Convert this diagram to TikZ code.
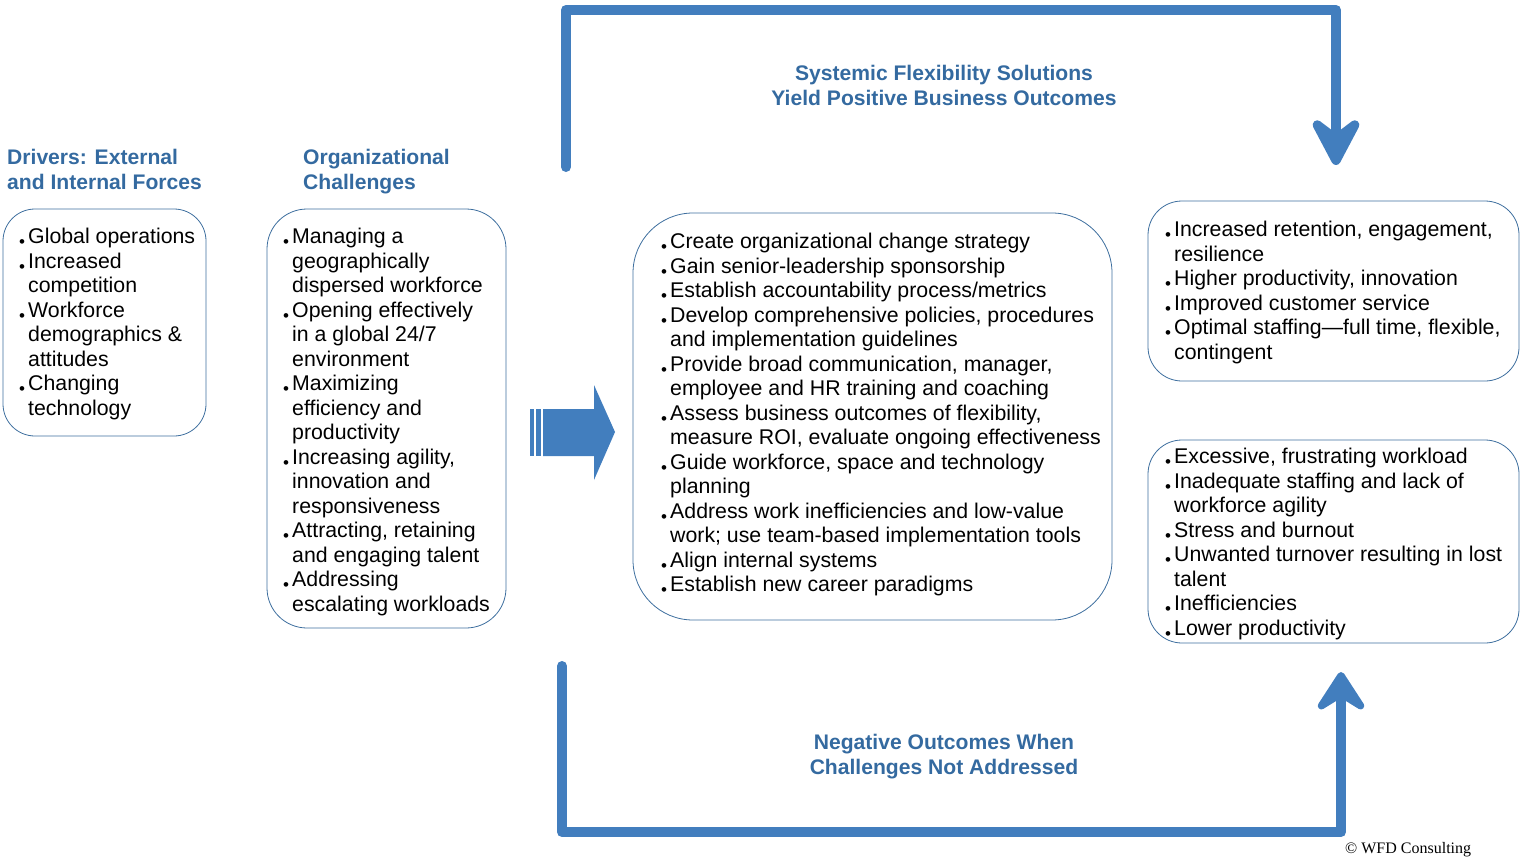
\documentclass[tikz,border=0pt]{standalone}
\usepackage{fontspec}
\setmainfont{Liberation Sans}
\newfontfamily\serifc{Liberation Serif}
\usetikzlibrary{arrows.meta}
\definecolor{ttl}{RGB}{52,106,160}
\definecolor{brd}{RGB}{61,110,158}
\definecolor{arr}{RGB}{66,126,190}
\newcommand\bul{\strut\makebox[8pt][l]{\hspace*{-1pt}\raisebox{-4pt}{\fontsize{17}{17}\selectfont •}}}
\newcommand\cnt{\strut\hspace*{8pt}}
\tikzset{
  txt/.style={anchor=north west, inner sep=0pt, align=left, font=\fontsize{21.3}{24.5}\selectfont},
  ttltext/.style={inner sep=0pt, text=ttl, font=\fontsize{21.1}{25}\selectfont\bfseries},
  box/.style={draw=brd, line width=0.8pt, rounded corners=#1, inner sep=0pt},
  flow/.style={draw=arr, line width=10pt, line cap=round, line join=round},
}
\begin{document}
\begin{tikzpicture}[x=1pt,y=-1pt]
\useasboundingbox (0,0) rectangle (1520,859);

% titles
\node[ttltext, anchor=north west, align=left] (t1) at (7,146.85) {\strut Drivers: External\\\strut and Internal Forces};
\node[ttltext, anchor=north west, align=left] (t2) at (303,146.85) {\strut Organizational\\\strut Challenges};
\node[ttltext, anchor=north, align=center] (t3) at (944,62.85) {\strut Systemic Flexibility Solutions\\\strut Yield Positive Business Outcomes};
\node[ttltext, anchor=north, align=center] (t4) at (944,731.85) {\strut Negative Outcomes When\\\strut Challenges Not Addressed};

% boxes
\node[box=32, minimum width=203, minimum height=227] (b1) at (104.5,322.5) {};
\node[box=40, minimum width=239, minimum height=419] (b2) at (386.5,418.5) {};
\node[box=60, minimum width=479, minimum height=407] (b3) at (872.5,416.5) {};
\node[box=34, minimum width=371, minimum height=180] (b4) at (1333.5,291) {};
\node[box=34, minimum width=371, minimum height=203] (b5) at (1333.5,541.5) {};

% box texts
\node[txt] (l1) at (20,226.35) {%
\bul Global operations\\
\bul Increased\\
\cnt competition\\
\bul Workforce\\
\cnt demographics \&\\
\cnt attitudes\\
\bul Changing\\
\cnt technology};

\node[txt] (l2) at (284,226.35) {%
\bul Managing a\\
\cnt geographically\\
\cnt dispersed workforce\\
\bul Opening effectively\\
\cnt in a global 24/7\\
\cnt environment\\
\bul Maximizing\\
\cnt efficiency and\\
\cnt productivity\\
\bul Increasing agility,\\
\cnt innovation and\\
\cnt responsiveness\\
\bul Attracting, retaining\\
\cnt and engaging talent\\
\bul Addressing\\
\cnt escalating workloads};

\node[txt] (l3) at (662,231.35) {%
\bul Create organizational change strategy\\
\bul Gain senior-leadership sponsorship\\
\bul Establish accountability process/metrics\\
\bul Develop comprehensive policies, procedures\\
\cnt and implementation guidelines\\
\bul Provide broad communication, manager,\\
\cnt employee and HR training and coaching\\
\bul Assess business outcomes of flexibility,\\
\cnt measure ROI, evaluate ongoing effectiveness\\
\bul Guide workforce, space and technology\\
\cnt planning\\
\bul Address work inefficiencies and low-value\\
\cnt work; use team-based implementation tools\\
\bul Align internal systems\\
\bul Establish new career paradigms};

\node[txt] (l4) at (1166,219.35) {%
\bul Increased retention, engagement,\\
\cnt resilience\\
\bul Higher productivity, innovation\\
\bul Improved customer service\\
\bul Optimal staffing—full time, flexible,\\
\cnt contingent};

\node[txt] (l5) at (1166,446.35) {%
\bul Excessive, frustrating workload\\
\bul Inadequate staffing and lack of\\
\cnt workforce agility\\
\bul Stress and burnout\\
\bul Unwanted turnover resulting in lost\\
\cnt talent\\
\bul Inefficiencies\\
\bul Lower productivity};

% big block arrow
\fill[arr] (530,409) rectangle (534,456);
\fill[arr] (535.5,409) rectangle (541,456);
\fill[arr] (543,409) -- (594,409) -- (594,385) -- (615,432) -- (594,480) -- (594,456) -- (543,456) -- cycle;

% connectors
\coordinate (ts) at (566,167);
\coordinate (tc1) at (566,10);
\coordinate (tc2) at (1336,10);
\coordinate (te) at (1336,165);
\draw[flow, -{Stealth[round, length=61pt, width=64pt, inset=24pt]}] (ts) -- (tc1) -- (tc2) -- (te);

\coordinate (bs) at (562,666);
\coordinate (bc1) at (562,832);
\coordinate (bc2) at (1341,832);
\coordinate (be) at (1341,672);
\draw[flow, -{Stealth[round, length=48pt, width=62pt, inset=19pt]}] (bs) -- (bc1) -- (bc2) -- (be);

% copyright
\node[anchor=base west, inner sep=0pt, font=\serifc\fontsize{16}{18}\selectfont] (cp) at (1345,853) {© WFD Consulting};
\end{tikzpicture}
\end{document}
